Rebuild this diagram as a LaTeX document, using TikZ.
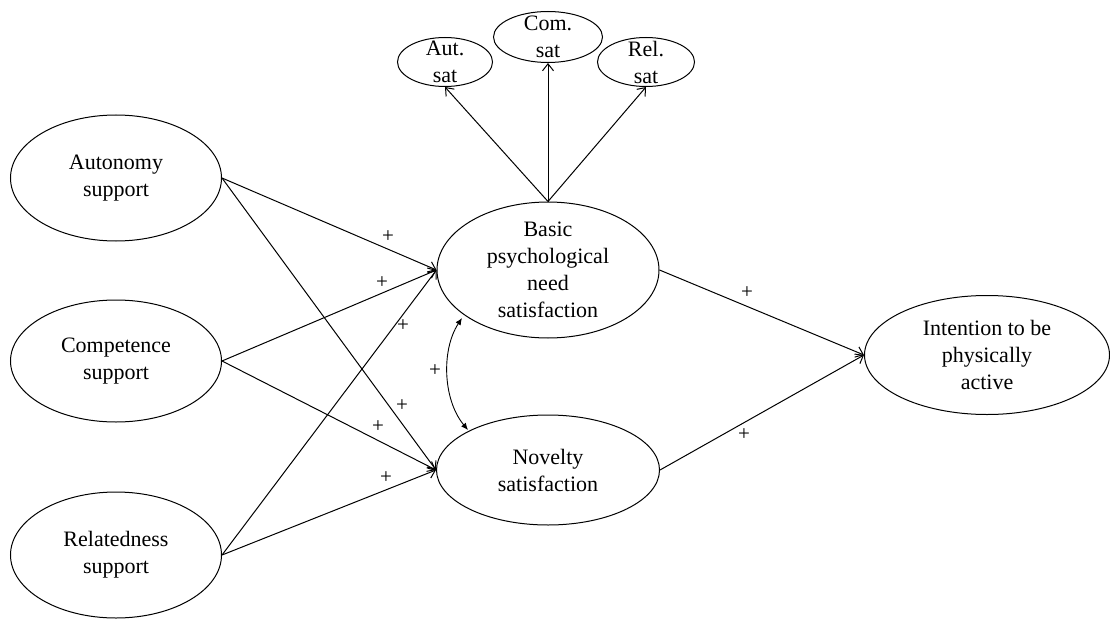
\documentclass[tikz,border=0pt]{standalone}
\usepackage{fontspec}
\setmainfont{Liberation Serif}
\usetikzlibrary{shapes.geometric,arrows.meta}
\tikzset{
  ell/.style={draw, ellipse, inner sep=0pt, line width=1pt},
  txt/.style={align=center, font=\fontsize{22}{27}\selectfont},
  plus/.style={font=\fontsize{21}{24}\selectfont, inner sep=0pt},
  arr/.style={line width=1pt, -{Straight Barb[length=7pt, width=11pt, line width=1pt]}},
  darr/.style={line width=0.9pt, {Latex[length=7pt, width=6pt]}-{Latex[length=7pt, width=6pt]}}
}
\begin{document}
\begin{tikzpicture}[x=1pt, y=-1pt]
\useasboundingbox (0,0) rectangle (1110,623);
% left ellipses
\node[ell, minimum width=211pt, minimum height=126pt, label={[txt]center:Autonomy\\support}] (aut) at (116,178) {};
\node[ell, minimum width=211pt, minimum height=122pt, label={[txt]center:Competence\\support}] (com) at (116,361) {};
\node[ell, minimum width=211pt, minimum height=126pt, label={[txt]center:Relatedness\\support}] (rel) at (116,555) {};
% middle
\node[ell, minimum width=222pt, minimum height=136pt, label={[txt]center:Basic\\psychological\\need\\satisfaction}] (bpn) at (548,270) {};
\node[ell, minimum width=223pt, minimum height=110pt, label={[txt]center:Novelty\\satisfaction}] (nov) at (548,470) {};
% right
\node[ell, minimum width=245pt, minimum height=119pt, label={[txt]center:Intention to be\\physically\\active}] (int) at (987,355) {};
% top small
\node[ell, minimum width=95pt, minimum height=49pt, label={[txt]center:Aut.\\sat}] (as) at (445,62) {};
\node[ell, minimum width=109pt, minimum height=51pt, label={[txt]center:Com.\\sat}] (cs) at (548,37) {};
\node[ell, minimum width=97pt, minimum height=49pt, label={[txt]center:Rel.\\sat}] (rs) at (646,62) {};
% arrows
\draw[arr] (bpn.north) -- (as.south);
\draw[arr] (bpn.north) -- (cs.south);
\draw[arr] (bpn.north) -- (rs.south);
\draw[arr] (aut.east) -- (bpn.west);
\draw[arr] (aut.east) -- (nov.west);
\draw[arr] (com.east) -- (bpn.west);
\draw[arr] (com.east) -- (nov.west);
\draw[arr] (rel.east) -- (bpn.west);
\draw[arr] (rel.east) -- (nov.west);
\draw[arr] (bpn.east) -- (int.west);
\draw[arr] (nov.east) -- (int.west);
\coordinate (c1) at (462,318);
\coordinate (c2) at (468,430);
\draw[darr] (c1) .. controls (441,350) and (443,400) .. (c2);
% plus labels
\node[plus] (p1) at (388,237) {+};
\node[plus] (p2) at (382,283) {+};
\node[plus] (p3) at (403,326) {+};
\node[plus] (p4) at (435,371) {+};
\node[plus] (p5) at (402,406) {+};
\node[plus] (p6) at (378,427) {+};
\node[plus] (p7) at (386,478) {+};
\node[plus] (p8) at (747,293) {+};
\node[plus] (p9) at (744,435) {+};
\end{tikzpicture}
\end{document}
